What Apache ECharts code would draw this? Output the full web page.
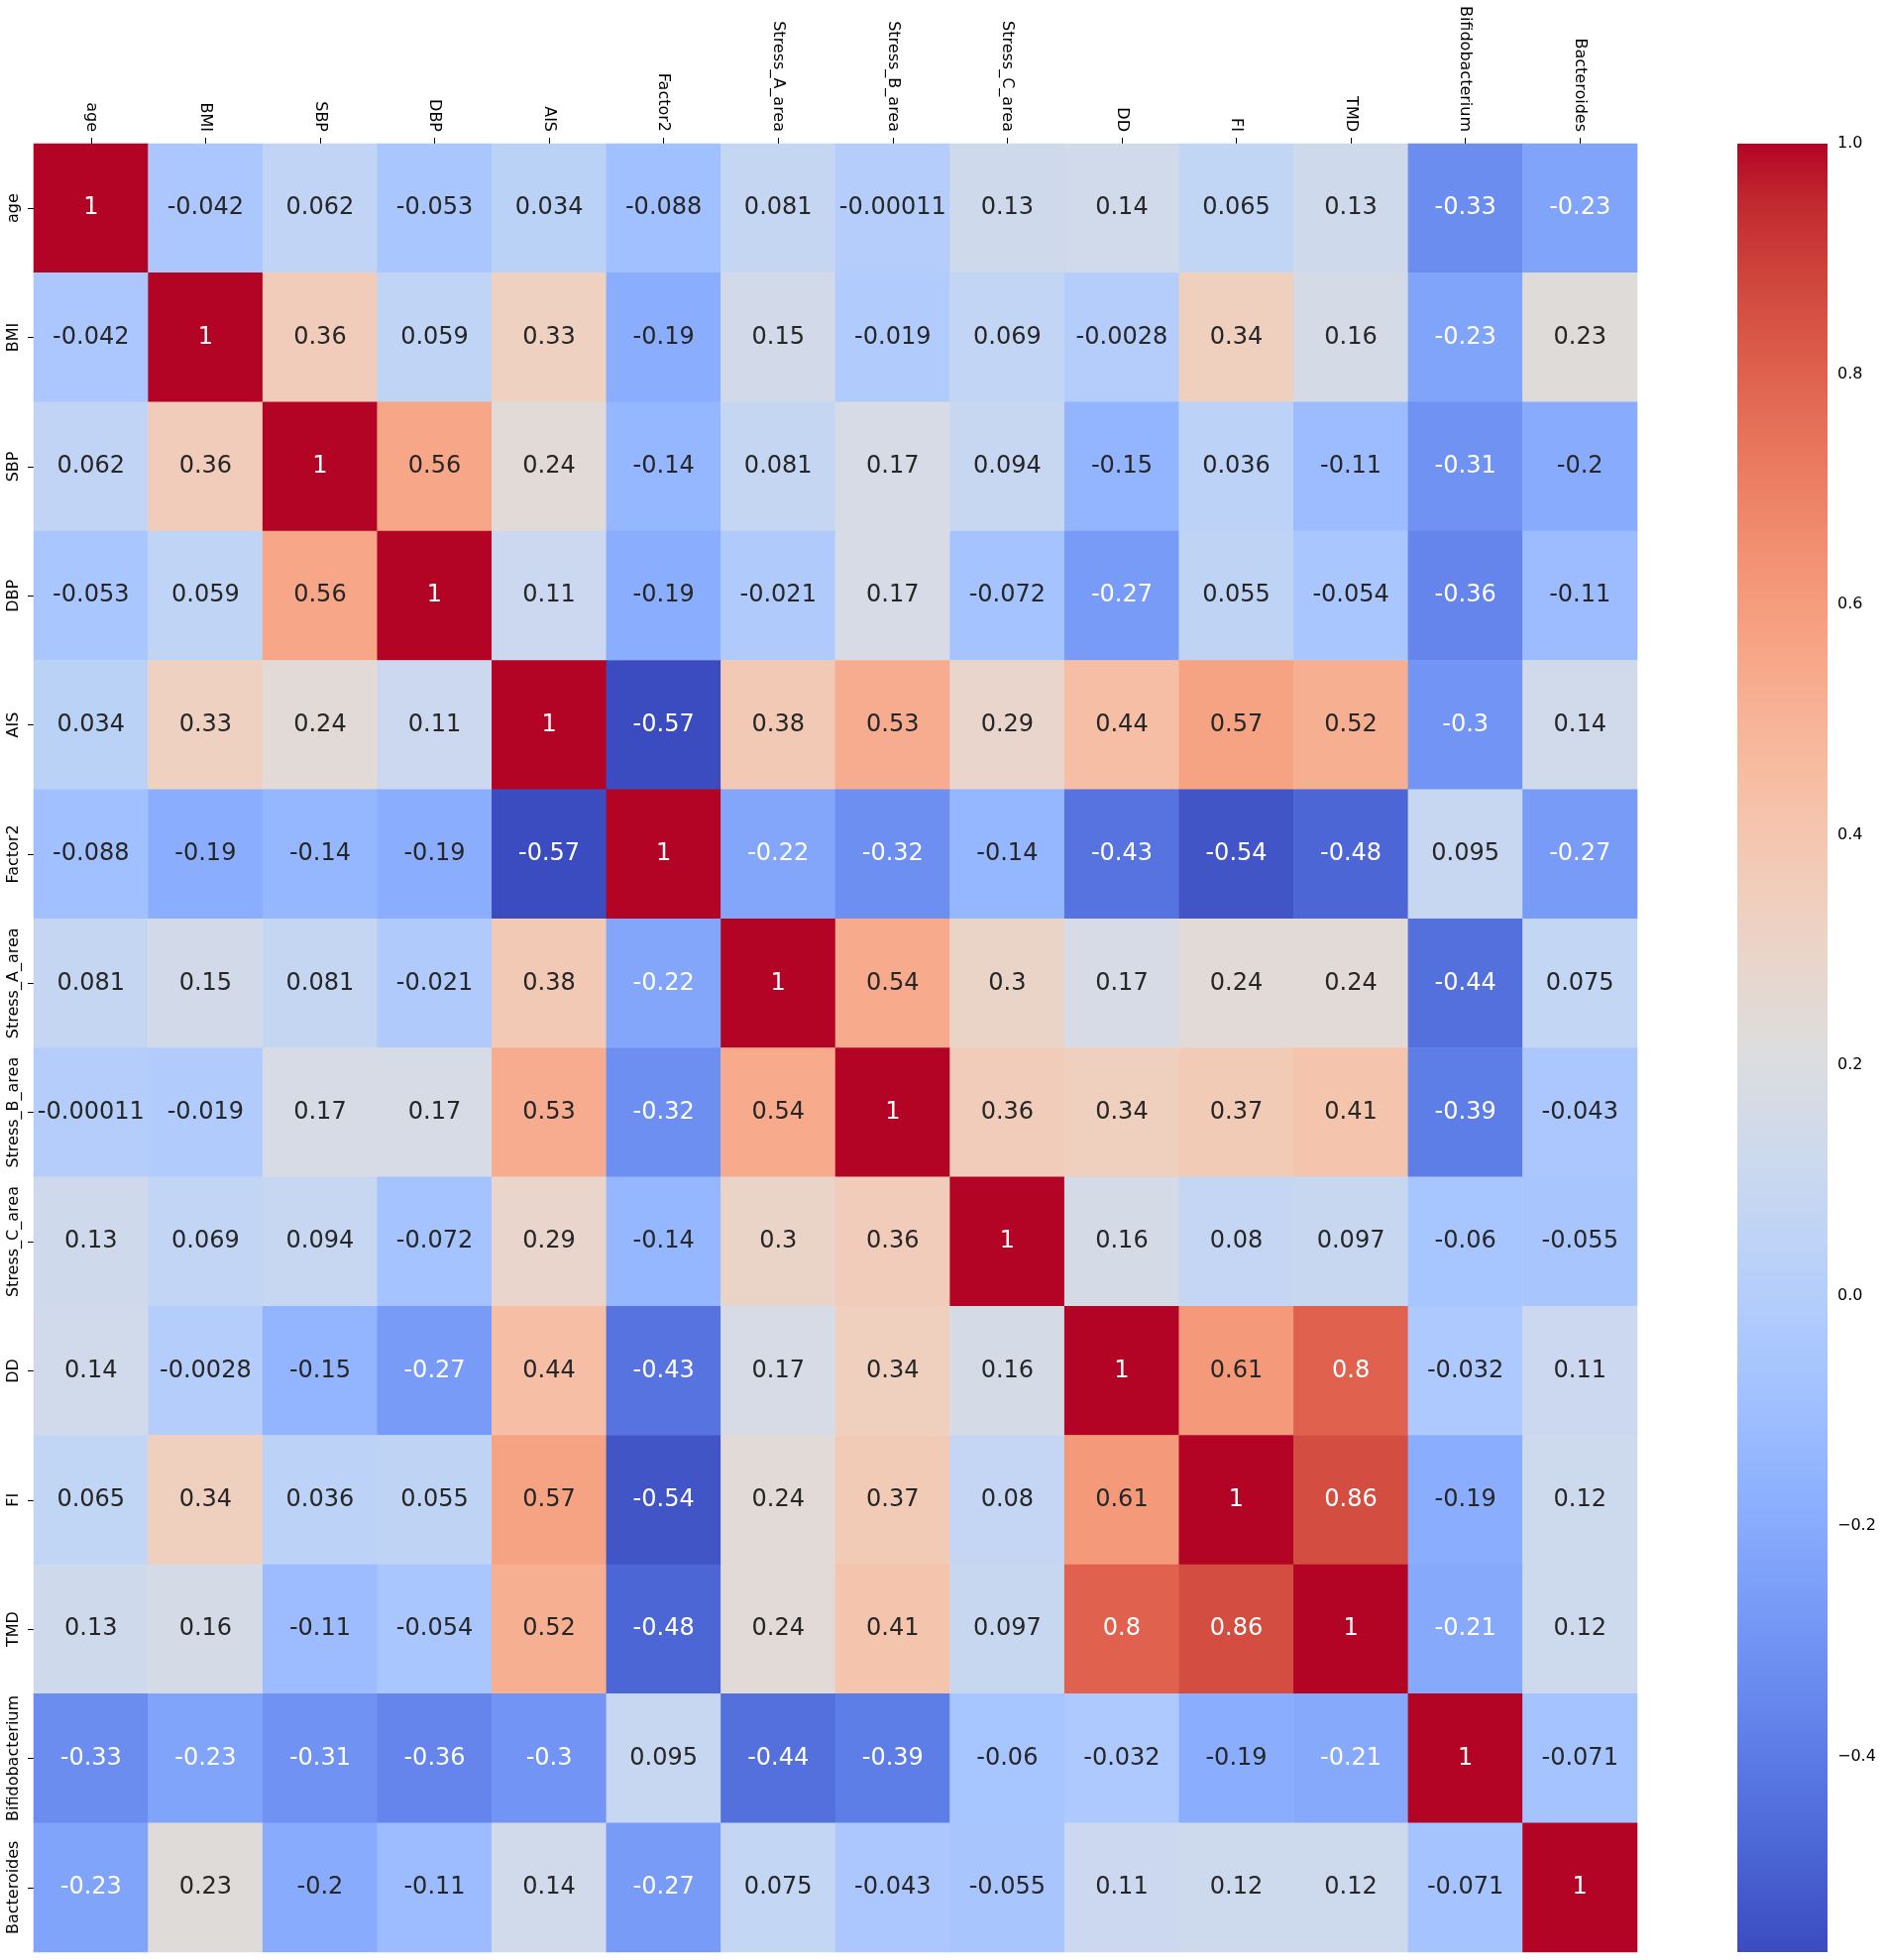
<!DOCTYPE html>
<html>
<head>
<meta charset="utf-8">
<title>Correlation heatmap</title>
<script src="https://cdn.jsdelivr.net/npm/echarts@6/dist/echarts.min.js"></script>
<style>
  html, body { margin: 0; padding: 0; background: #fff; }
  #chart { width: 1901px; height: 1978px; }
</style>
</head>
<body>
<div id="chart"></div>
<script>
// variables, same order on both axes
const variables = [
  "age", "BMI", "SBP", "DBP", "AIS", "Factor2", "Stress_A_area", "Stress_B_area",
  "Stress_C_area", "DD", "FI", "TMD", "Bifidobacterium", "Bacteroides"
];

// correlation matrix, one row per variable
const rowAge      = [1, -0.042, 0.062, -0.053, 0.034, -0.088, 0.081, -0.00011, 0.13, 0.14, 0.065, 0.13, -0.33, -0.23];
const rowBMI      = [-0.042, 1, 0.36, 0.059, 0.33, -0.19, 0.15, -0.019, 0.069, -0.0028, 0.34, 0.16, -0.23, 0.23];
const rowSBP      = [0.062, 0.36, 1, 0.56, 0.24, -0.14, 0.081, 0.17, 0.094, -0.15, 0.036, -0.11, -0.31, -0.2];
const rowDBP      = [-0.053, 0.059, 0.56, 1, 0.11, -0.19, -0.021, 0.17, -0.072, -0.27, 0.055, -0.054, -0.36, -0.11];
const rowAIS      = [0.034, 0.33, 0.24, 0.11, 1, -0.57, 0.38, 0.53, 0.29, 0.44, 0.57, 0.52, -0.3, 0.14];
const rowFactor2  = [-0.088, -0.19, -0.14, -0.19, -0.57, 1, -0.22, -0.32, -0.14, -0.43, -0.54, -0.48, 0.095, -0.27];
const rowStressA  = [0.081, 0.15, 0.081, -0.021, 0.38, -0.22, 1, 0.54, 0.3, 0.17, 0.24, 0.24, -0.44, 0.075];
const rowStressB  = [-0.00011, -0.019, 0.17, 0.17, 0.53, -0.32, 0.54, 1, 0.36, 0.34, 0.37, 0.41, -0.39, -0.043];
const rowStressC  = [0.13, 0.069, 0.094, -0.072, 0.29, -0.14, 0.3, 0.36, 1, 0.16, 0.08, 0.097, -0.06, -0.055];
const rowDD       = [0.14, -0.0028, -0.15, -0.27, 0.44, -0.43, 0.17, 0.34, 0.16, 1, 0.61, 0.8, -0.032, 0.11];
const rowFI       = [0.065, 0.34, 0.036, 0.055, 0.57, -0.54, 0.24, 0.37, 0.08, 0.61, 1, 0.86, -0.19, 0.12];
const rowTMD      = [0.13, 0.16, -0.11, -0.054, 0.52, -0.48, 0.24, 0.41, 0.097, 0.8, 0.86, 1, -0.21, 0.12];
const rowBifido   = [-0.33, -0.23, -0.31, -0.36, -0.3, 0.095, -0.44, -0.39, -0.06, -0.032, -0.19, -0.21, 1, -0.071];
const rowBactero  = [-0.23, 0.23, -0.2, -0.11, 0.14, -0.27, 0.075, -0.043, -0.055, 0.11, 0.12, 0.12, -0.071, 1];

const matrix = [
  rowAge, rowBMI, rowSBP, rowDBP, rowAIS, rowFactor2, rowStressA,
  rowStressB, rowStressC, rowDD, rowFI, rowTMD, rowBifido, rowBactero
];

// colour scale range and colorbar ticks
const scaleMin = -0.57;
const scaleMax = 1.0;
const colorbarTicks = [-0.4, -0.2, 0.0, 0.2, 0.4, 0.6, 0.8, 1.0];

// coolwarm colormap, evenly spaced from low to high
const coolwarm = [
  [59, 76, 192], [68, 90, 204], [77, 104, 215], [87, 117, 225], [98, 130, 234],
  [108, 142, 241], [119, 154, 247], [130, 165, 251], [141, 176, 254], [152, 185, 255],
  [163, 194, 255], [174, 201, 253], [184, 208, 249], [194, 213, 244], [204, 217, 238],
  [213, 219, 230], [221, 221, 221], [229, 216, 209], [236, 211, 197], [241, 204, 185],
  [245, 196, 173], [247, 187, 160], [247, 177, 148], [247, 166, 135], [244, 154, 123],
  [241, 141, 111], [236, 127, 99], [229, 112, 88], [222, 96, 77], [213, 80, 66],
  [203, 62, 56], [192, 40, 47], [180, 4, 38]
];

const toCss = (c) => "rgb(" + c.map(Math.round).join(",") + ")";

function sampleCmap(v) {
  let t = (v - scaleMin) / (scaleMax - scaleMin);
  t = Math.min(1, Math.max(0, t));
  const pos = t * (coolwarm.length - 1);
  const i = Math.min(coolwarm.length - 2, Math.floor(pos));
  const f = pos - i;
  return coolwarm[i].map((c, k) => c + (coolwarm[i + 1][k] - c) * f);
}

// same rule seaborn uses to pick dark or white annotation text
function textColor(v) {
  const lin = sampleCmap(v).map((c) => {
    c = c / 255;
    return c <= 0.03928 ? c / 12.92 : Math.pow((c + 0.055) / 1.055, 2.4);
  });
  const lum = 0.2126 * lin[0] + 0.7152 * lin[1] + 0.0722 * lin[2];
  return lum > 0.408 ? "#262626" : "#ffffff";
}

const cells = [];
matrix.forEach((row, y) => {
  row.forEach((v, x) => {
    cells.push({ value: [x, y, v], label: { color: textColor(v) } });
  });
});

const chart = echarts.init(document.getElementById("chart"), null, { renderer: "canvas" });

const tickFont = { fontFamily: "DejaVu Sans", fontSize: 16, color: "#000" };

const option = {
  backgroundColor: "#ffffff",
  animation: false,
  grid: [
    { left: 34, top: 145, width: 1618, height: 1825 },
    { left: 1753, top: 145, width: 91, height: 1825 }
  ],
  xAxis: [
    {
      type: "category",
      gridIndex: 0,
      data: variables,
      position: "top",
      axisLine: { show: false },
      axisTick: { show: true, alignWithLabel: true, length: 6, lineStyle: { color: "#000", width: 1 } },
      axisLabel: { ...tickFont, rotate: 90, interval: 0, margin: 12 },
      splitLine: { show: false }
    },
    { type: "value", gridIndex: 1, min: 0, max: 1, show: false }
  ],
  yAxis: [
    {
      type: "category",
      gridIndex: 0,
      data: variables,
      inverse: true,
      axisLine: { show: false },
      axisTick: { show: true, alignWithLabel: true, length: 6, lineStyle: { color: "#000", width: 1 } },
      axisLabel: { ...tickFont, rotate: 90, interval: 0, margin: 12 },
      splitLine: { show: false }
    },
    {
      type: "value",
      gridIndex: 1,
      min: scaleMin,
      max: scaleMax,
      position: "right",
      axisLine: { show: false },
      splitLine: { show: false },
      axisTick: { show: true, length: 6, customValues: colorbarTicks, lineStyle: { color: "#000", width: 1 } },
      axisLabel: {
        ...tickFont,
        margin: 10,
        customValues: colorbarTicks,
        formatter: (v) => (v < 0 ? "\u2212" : "") + Math.abs(v).toFixed(1)
      }
    }
  ],
  visualMap: {
    show: false,
    type: "continuous",
    seriesIndex: 0,
    dimension: 2,
    min: scaleMin,
    max: scaleMax,
    inRange: { color: coolwarm.map(toCss) }
  },
  series: [
    {
      type: "heatmap",
      xAxisIndex: 0,
      yAxisIndex: 0,
      data: cells,
      label: {
        show: true,
        fontFamily: "DejaVu Sans",
        fontSize: 24,
        formatter: (p) => String(p.value[2])
      },
      itemStyle: { borderWidth: 0 },
      emphasis: { disabled: true }
    },
    {
      // colorbar: one rectangle spanning the scale on the colorbar axis
      type: "custom",
      xAxisIndex: 1,
      yAxisIndex: 1,
      silent: true,
      data: [[0, 1, scaleMin, scaleMax]],
      renderItem: (params, api) => {
        const p0 = api.coord([api.value(0), api.value(3)]);
        const p1 = api.coord([api.value(1), api.value(2)]);
        const stops = coolwarm.map((c, i) => ({
          offset: i / (coolwarm.length - 1),
          color: toCss(coolwarm[coolwarm.length - 1 - i])
        }));
        return {
          type: "rect",
          shape: { x: p0[0], y: p0[1], width: p1[0] - p0[0], height: p1[1] - p0[1] },
          style: { fill: new echarts.graphic.LinearGradient(0, 0, 0, 1, stops) }
        };
      }
    }
  ]
};

chart.setOption(option);
</script>
</body>
</html>
